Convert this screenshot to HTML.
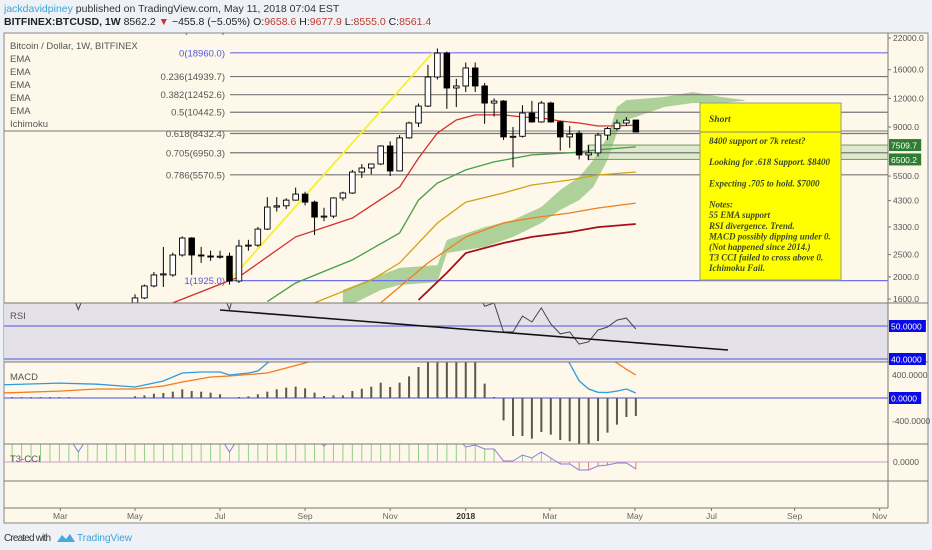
<!DOCTYPE html>
<html><head><meta charset="utf-8"><style>
html,body{margin:0;padding:0;background:#eef2f6;width:932px;height:550px;overflow:hidden;font-family:"Liberation Sans",sans-serif}
svg{display:block}
</style></head><body>
<svg id="chart" width="932" height="550" viewBox="0 0 932 550" xmlns="http://www.w3.org/2000/svg">
<defs>
<clipPath id="cMain"><rect x="4" y="33" width="884" height="270"/></clipPath>
<clipPath id="cRsi"><rect x="4" y="303" width="884" height="59"/></clipPath>
<clipPath id="cMacd"><rect x="4" y="362" width="884" height="82"/></clipPath>
<clipPath id="cT3"><rect x="4" y="444" width="884" height="37"/></clipPath>
</defs>
<text x="4" y="12" font-size="10.5" fill="#333"><tspan fill="#3ba3d9">jackdavidpiney</tspan> published on TradingView.com, May 11, 2018 07:04 EST</text>
<text x="4" y="25" font-size="10.5" fill="#222"><tspan font-weight="bold">BITFINEX:BTCUSD, 1W</tspan> 8562.2 <tspan fill="#d32f2f">▼</tspan> −455.8 (−5.05%) O:<tspan fill="#c0392b">9658.6</tspan> H:<tspan fill="#c0392b">9677.9</tspan> L:<tspan fill="#c0392b">8555.0</tspan> C:<tspan fill="#c0392b">8561.4</tspan></text>
<rect x="4" y="33" width="924" height="490" fill="#fdf8e9" stroke="#888" stroke-width="1"/>
<rect x="4" y="303" width="884" height="59" fill="#e4e1e8"/>
<g id="layers"></g>
<text x="4" y="541" font-size="10" fill="#333" textLength="47">Created with</text>
<g><path d="M57 542 l5 -7 l4 4 l4 -5 l5 8 z" fill="#4aa8e0"/></g>
<text x="77" y="541" font-size="10" fill="#3ba3d9">TradingView</text>
</svg>
<script>
// ---- data ----
const candleOpen  = [1540,1618,1825,2038,2038,2490,2953,2490,2465,2440,2460,1918,2725,2750,3230,4030,4080,4320,4590,4235,3645,3680,4415,4640,5730,5965,6210,7440,5790,8070,9370,11110,14870,18910,13320,13590,16280,13590,11450,11680,8150,8200,10360,9470,11450,9470,8150,8460,6800,6940,8300,8860,9370,9650];
const candleHigh  = [1680,1850,2100,2700,2550,3000,2980,2700,2600,2600,2550,2900,2900,3300,4450,4450,4400,4900,4700,4300,4000,4450,4700,5850,6200,6200,7500,7800,8300,9500,11400,16800,19800,19200,14600,17200,17200,14000,12000,11800,9000,11200,11700,11700,11600,9600,9100,8700,7500,8500,9000,9700,9950,9680];
const candleLow   = [1500,1600,1800,1807,2000,2450,2040,2300,2350,2400,1850,1880,2600,2700,3200,3850,3950,4300,4100,3045,3500,3600,4300,4600,5400,5600,6150,5500,5790,8000,9000,11000,14500,10800,11000,12800,12800,9300,10000,7900,6000,8100,9400,9400,9400,7100,7300,6500,6450,6700,7900,8700,9100,8555];
const candleClose = [1618,1825,2038,2060,2490,2953,2490,2465,2440,2460,1918,2725,2750,3230,4030,4080,4320,4590,4235,3645,3680,4415,4640,5730,5965,6210,7440,5790,8070,9370,11110,14870,18910,13320,13590,16280,13590,11450,11680,8150,8200,10360,9470,11450,9470,8150,8380,6800,6940,8300,8860,9370,9640,8561];

const ema21Idx = [4,11,17,23,28,30,32,34,36,39,41,43,45,47,49,51,53];
const ema21Val = [1540,1998,2985,3610,4930,6590,8480,9660,10160,10160,9950,9850,9560,9370,9090,9100,9180];
const ema55Idx = [14,17,23,28,30,32,35,38,42,46,49,53];
const ema55Val = [1560,1880,2370,3105,4320,5130,5850,6340,6800,6940,7160,7370];
const ema100Idx = [19,25,28,32,35,39,42,46,49,53];
const ema100Val = [1540,1935,2300,3435,4235,4640,5030,5290,5560,5730];
const ema200Idx = [26,28,31,35,39,42,46,49,53];
const ema200Val = [1540,1807,2300,2985,3435,3610,3795,3990,4195];
const ema300Idx = [30,33,35,39,42,46,49,53];
const ema300Val = [1585,2080,2540,2810,2985,3135,3295,3400];

const cloudIdx = [22,26,28,32,33,37,40,43,45,47,48.5,50,51,52,56,59,62,64.5];
const cloudTop = [1753,2038,2188,2250,2895,3295,3540,4030,4780,5440,6460,8150,11000,11800,12160,12790,12160,11800];
const cloudBot = [1450,1753,1843,1900,2540,2700,2985,3435,3910,4320,4930,6460,8480,9640,11000,11450,11450,11700];

const fibRatios = ["0.27","0","0.236","0.382","0.5","0.618","0.705","0.786","1"];
const fibPrices = [23939.3,18960.0,14939.7,12452.6,10442.5,8432.4,6950.3,5570.5,1925.0];

const priceTicks = [22000,16000,12000,9000,5500,4300,3300,2500,2000,1600];

const rsiIdx = [-14,-7,-6,-5,0,9,10,11,20,30,36,37,38,39,40,41,42,43,44,45,46,47,48,49,50,51,52,53];
const rsiVal = [70,62,55,62,70,62,55,65,70,80,62,56,57,48.2,48.2,53,51.2,55.5,50.6,47.6,48.2,44.5,45.2,48.8,49.7,51.8,52.4,49.1];

const histStart = -13;
const histVal = [15,15,15,15,15,15,15,0,0,0,0,0,0,
 29,46,75,87,110,151,122,110,93,64,
 6,17,29,64,110,151,180,197,168,93,
 35,46,46,122,162,197,267,191,267,377,
 539,800,1000,1050,950,850,700,250,17,-390,
 -661,-661,-708,-592,-638,-731,-754,-795,-795,-748,
 -603,-464,-331,-313];
const macdIdx = [-14,-8,-4,0,2,3,5,7,9,10,12,13,14,16,20,30,40,44,45,46,47,48,49,50,51,52,53];
const macdVal = [230,260,240,191,261,296,435,452,452,400,435,470,609,800,1200,2000,1800,1200,850,600,300,157,100,95,120,157,87];
const signalIdx = [-14,-8,-4,0,3,5,8,10,14,16,18,22,30,40,46,48,50,51,52,53];
const signalVal = [87,120,157,157,209,278,365,383,435,522,609,800,1400,1700,1300,1000,700,609,500,400];

const t3Start = -14;
const t3Val = [250,250,250,250,250,250,250,250,100,250,250,250,250,250,
 250,250,250,250,250,250,250,250,250,250,100,250,250,250,250,250,250,250,250,250,160,
 250,250,250,250,250,250,250,250,250,250,250,250,250,250,
 150,170,130,130,10,10,70,40,100,40,-20,-20,-80,-80,-40,-30,-10,-10,-70];

const monthLabels = ["Mar","May","Jul","Sep","Nov","2018","Mar","May","Jul","Sep","Nov"];
const monthWeek = [-7.9,0,9,18,27,35,43.9,52.9,61,69.8,78.8];

const noteLines = ["8400 support or 7k retest?","","Looking for .618 Support. $8400","","Expecting .705 to hold. $7000","","Notes:","55 EMA support","RSI divergence. Trend.","MACD possibly dipping under 0.","(Not happened since 2014.)","T3 CCI failed to cross above 0.","Ichimoku Fail."];

// ---- scales ----
const NS="http://www.w3.org/2000/svg";
const LN22=Math.log(22000);
function xOf(n){return 135+9.45*n;}
function yP(p){return 38+(LN22-Math.log(p))*99.6;}
function yRsi(v){return 326-(v-50)*3.3;}
function yMacd(v){return 398-v/17.4;}
function yT3(v){return 462-v/10;}
const root=document.getElementById('layers');
function mk(tag,attrs,parent){const e=document.createElementNS(NS,tag);for(const k in attrs)e.setAttribute(k,attrs[k]);(parent||root).appendChild(e);return e;}
function grp(clip){const g=mk('g',clip?{'clip-path':'url(#'+clip+')'}:{});return g;}
function pts(idx,val,yf){return idx.map((n,i)=>xOf(n).toFixed(1)+','+yf(val[i]).toFixed(1)).join(' ');}

// ---- main pane ----
const gMain=grp('cMain');
let cp=cloudIdx.map((n,i)=>xOf(n)+','+yP(cloudTop[i])).join(' ')+' '+cloudIdx.slice().reverse().map((n,i)=>{const j=cloudIdx.length-1-i;return xOf(n)+','+yP(cloudBot[j]);}).join(' ');
const cloud=mk('polygon',{points:cp,fill:'#93c47d','fill-opacity':'0.75'},gMain);


const box=mk('rect',{x:588,y:yP(7509.7),width:300,height:yP(6500.2)-yP(7509.7),fill:'#b9d8a6','fill-opacity':'0.45',stroke:'#6f9a5e','stroke-width':1},gMain);


const hl=mk('line',{x1:4,x2:888,y1:131,y2:131,stroke:'#777','stroke-width':1},gMain);


fibPrices.forEach((p,i)=>{
  const y=yP(p);const blue=(fibRatios[i]==="0"||fibRatios[i]==="1");
  const l=mk('line',{x1:230,x2:888,y1:y,y2:y,stroke:blue?'#7070e8':'#777','stroke-width':1.2},gMain);
  
  
  const t=mk('text',{x:225,y:y+3.5,'text-anchor':'end','font-size':'9.5',fill:blue?'#5555dd':'#555'},gMain);
  t.textContent=fibRatios[i]+'('+p.toFixed(1)+')';
  
  
});
const tl=mk('line',{x1:xOf(10),y1:yP(1925),x2:xOf(31.5),y2:yP(18960),stroke:'#f5f032','stroke-width':1.8},gMain);


[[ema21Idx,ema21Val,'#d32f2f','ema-21-line'],[ema55Idx,ema55Val,'#43a047','ema-55-line'],[ema100Idx,ema100Val,'#d4a017','ema-100-line'],[ema200Idx,ema200Val,'#f07d1f','ema-200-line'],[ema300Idx,ema300Val,'#a5101a','ema-300-line']].forEach(s=>{
  const pl=mk('polyline',{points:pts(s[0],s[1],yP),fill:'none',stroke:s[2],'stroke-width':s[3]==='ema-300-line'?1.8:1.3},gMain);
  
  
});
candleOpen.forEach((o,i)=>{
  const c=candleClose[i],x=xOf(i);
  const g=mk('g',{},gMain);
  
  
  mk('line',{x1:x,x2:x,y1:yP(candleHigh[i]),y2:yP(candleLow[i]),stroke:'#000','stroke-width':1},g);
  const top=yP(Math.max(o,c)),bot=yP(Math.min(o,c));
  mk('rect',{x:x-2.8,y:top,width:5.6,height:Math.max(1,bot-top),fill:c>=o?'#fff':'#000',stroke:'#000','stroke-width':0.9},g);
});
const legend=['Bitcoin / Dollar, 1W, BITFINEX','EMA','EMA','EMA','EMA','EMA','Ichimoku'];
legend.forEach((s,i)=>{const t=mk('text',{x:10,y:49+i*13,'font-size':'9.5',fill:'#555'});t.textContent=s;
  
  });
const nb=mk('rect',{x:700,y:103,width:141,height:177,fill:'#ffff00',stroke:'#999','stroke-width':1});


mk('line',{x1:700,x2:841,y1:132,y2:132,stroke:'#888','stroke-width':1});
const ns=mk('text',{x:709,y:122,'font-size':'9.5','font-style':'italic','font-weight':'bold','font-family':'"Liberation Serif",serif',fill:'#3b4a26'});
ns.textContent='Short';


noteLines.forEach((s,i)=>{if(!s)return;const t=mk('text',{x:709,y:144+i*10.6,'font-size':'9','font-style':'italic','font-weight':'bold','font-family':'"Liberation Serif",serif',fill:'#3b4a26'});t.textContent=s;
  
  });

// ---- RSI ----
const gR=grp('cRsi');
[50,40].forEach(v=>{const l=mk('line',{x1:4,x2:888,y1:yRsi(v),y2:yRsi(v),stroke:'#6f6fe0','stroke-width':1.2},gR);
  
  });
const rl=mk('polyline',{points:pts(rsiIdx,rsiVal,yRsi),fill:'none',stroke:'#444','stroke-width':1},gR);


const rt=mk('line',{x1:220,y1:310,x2:728,y2:350,stroke:'#111','stroke-width':1.6},gR);


const rlab=mk('text',{x:10,y:319,'font-size':'9.5',fill:'#555'});rlab.textContent='RSI';



// ---- MACD ----
const gM=grp('cMacd');
const z=mk('line',{x1:4,x2:888,y1:yMacd(0),y2:yMacd(0),stroke:'#6f6fe0','stroke-width':1.2},gM);


histVal.forEach((v,i)=>{const n=histStart+i;const b=mk('line',{x1:xOf(n),x2:xOf(n),y1:yMacd(0),y2:yMacd(v),stroke:'#5a5a48','stroke-width':2},gM);
  
  });
const sl=mk('polyline',{points:pts(signalIdx,signalVal,yMacd),fill:'none',stroke:'#f57c20','stroke-width':1.3},gM);


const ml=mk('polyline',{points:pts(macdIdx,macdVal,yMacd),fill:'none',stroke:'#2e9be0','stroke-width':1.3},gM);


const mlab=mk('text',{x:10,y:380,'font-size':'9.5',fill:'#555'});mlab.textContent='MACD';



// ---- T3 CCI ----
const gT=grp('cT3');
t3Val.forEach((v,i)=>{const n=t3Start+i;const b=mk('line',{x1:xOf(n),x2:xOf(n),y1:yT3(0),y2:yT3(v),stroke:v>=0?'#8fcf8a':'#e27a7a','stroke-width':1},gT);
  
  });
const tz=mk('line',{x1:4,x2:888,y1:yT3(0),y2:yT3(0),stroke:'#c9a0c9','stroke-width':1},gT);


const t3l=mk('polyline',{points:t3Val.map((v,i)=>xOf(t3Start+i).toFixed(1)+','+yT3(v).toFixed(1)).join(' '),fill:'none',stroke:'#8a7fd8','stroke-width':1},gT);


const tlab=mk('text',{x:10,y:462,'font-size':'9.5',fill:'#555'});tlab.textContent='T3-CCI';



// ---- pane separators & axes ----
[303,362,444,481,508].forEach(y=>{const l=mk('line',{x1:4,x2:y===508?888:928,y1:y,y2:y,stroke:'#777','stroke-width':1});
  
  });
const va=mk('line',{x1:888,x2:888,y1:33,y2:508,stroke:'#777','stroke-width':1});


priceTicks.forEach(p=>{const y=yP(p);mk('line',{x1:888,x2:891,y1:y,y2:y,stroke:'#777'});
  const t=mk('text',{x:893,y:y+3,'font-size':'8.5',fill:'#555'});t.textContent=p.toFixed(1);
  
  });
function buildW(t){return t.length*4.7+4;}
function tag(txt,y,col,name){mk('rect',{x:889,y:y-6,width:buildW(txt),height:12,fill:col});
  const t=mk('text',{x:891,y:y+3.5,'font-size':'8.5',fill:'#fff'});t.textContent=txt;
  
  }
tag('7509.7',yP(7509.7),'#2e7d32','price-tag-7509');
tag('6500.2',yP(6500.2),'#2e7d32','price-tag-6500');
tag('50.0000',yRsi(50),'#0a0ae6','rsi-tag-50');
tag('40.0000',yRsi(40),'#0a0ae6','rsi-tag-40');
tag('0.0000',yMacd(0),'#0a0ae6','macd-tag-zero');
[[400,'400.0000'],[-400,'-400.0000']].forEach(a=>{const t=mk('text',{x:892,y:yMacd(a[0])+3,'font-size':'8.5',fill:'#555'});t.textContent=a[1];
  
  });
const t0=mk('text',{x:893,y:yT3(0)+3,'font-size':'8.5',fill:'#555'});t0.textContent='0.0000';


monthLabels.forEach((m,i)=>{const x=xOf(monthWeek[i]);mk('line',{x1:x,x2:x,y1:508,y2:511,stroke:'#777'});
  const t=mk('text',{x:x,y:519,'text-anchor':'middle','font-size':'8.5',fill:m==='2018'?'#333':'#666','font-weight':m==='2018'?'bold':'normal'});t.textContent=m;
  
  });
</script>
</body></html>
